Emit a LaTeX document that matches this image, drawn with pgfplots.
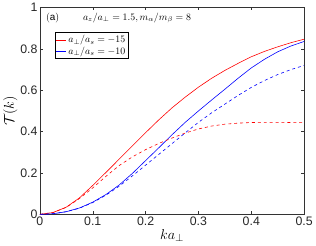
\documentclass[border=0pt]{standalone}
\usepackage{fontspec}
\setmainfont{Liberation Sans}
\usepackage{pgfplots}
\pgfplotsset{compat=1.18}
\pgfplotstableread{
k T
0 0
0.025 0.009
0.05 0.035
0.075 0.08
0.1 0.14
0.125 0.203
0.15 0.267
0.175 0.331
0.2 0.395
0.225 0.457
0.25 0.515
0.275 0.567
0.3 0.615
0.325 0.658
0.35 0.696
0.375 0.730
0.4 0.762
0.425 0.788
0.45 0.810
0.475 0.830
0.5 0.847
}\redsolid
\pgfplotstableread{
k T
0 0
0.025 0.009
0.05 0.034
0.075 0.077
0.1 0.128
0.125 0.184
0.15 0.236
0.175 0.278
0.2 0.313
0.225 0.343
0.25 0.369
0.275 0.393
0.3 0.413
0.325 0.427
0.35 0.436
0.375 0.441
0.4 0.444
0.425 0.445
0.45 0.445
0.475 0.444
0.5 0.443
}\reddash
\pgfplotstableread{
k T
0 0
0.025 0.003
0.05 0.013
0.075 0.031
0.1 0.059
0.125 0.096
0.15 0.142
0.175 0.198
0.2 0.26
0.225 0.322
0.25 0.385
0.275 0.445
0.3 0.5
0.325 0.553
0.35 0.605
0.375 0.658
0.4 0.708
0.425 0.750
0.45 0.786
0.475 0.814
0.5 0.836
}\bluesolid
\pgfplotstableread{
k T
0 0
0.025 0.003
0.05 0.013
0.075 0.030
0.1 0.057
0.125 0.093
0.15 0.136
0.175 0.186
0.2 0.238
0.225 0.290
0.25 0.342
0.275 0.394
0.3 0.445
0.325 0.491
0.35 0.533
0.375 0.575
0.4 0.614
0.425 0.647
0.45 0.676
0.475 0.700
0.5 0.720
}\bluedash
\begin{document}
\begin{tikzpicture}
\begin{axis}[
  scale only axis,
  width=267bp, height=209bp,
  xmin=0, xmax=0.5, ymin=0, ymax=1,
  xtick={0,0.1,0.2,0.3,0.4,0.5},
  ytick={0,0.2,0.4,0.6,0.8,1},
  tick align=inside,
  major tick length=3bp,
  tick style={black!80, line width=0.4pt},
  axis line style={black!80, line width=0.5pt},
  tick label style={font=\fontsize{12.5}{14}\selectfont, black!85},
  /pgf/number format/assume math mode=true,
  xticklabel style={yshift=1bp},
  yticklabel style={xshift=1bp},
  xlabel={$ka_\perp$},
  ylabel={$\mathcal{T}(k)$},
  label style={font=\fontsize{15}{17}\selectfont},
  xlabel style={yshift=3bp},
  ylabel style={yshift=-4bp},
  legend style={at={(axis description cs:0.056,0.88)}, anchor=north west,
    draw=black, line width=0.5pt, font=\fontsize{10}{11}\selectfont,
    inner xsep=1bp, inner ysep=1bp, row sep=-1.5bp},
  legend cell align=left,
  legend image code/.code={\draw[#1, line width=0.6pt] (0cm,0cm) -- (0.35cm,0cm);},
]
\addplot[red, line width=0.6pt] table[x=k,y=T] {\redsolid};
\addlegendentry{$a_\perp/a_s=-15$}
\addplot[blue, line width=0.6pt] table[x=k,y=T] {\bluesolid};
\addlegendentry{$a_\perp/a_s=-10$}
\addplot[red, dashed, line width=0.6pt, forget plot] table[x=k,y=T] {\reddash};
\addplot[blue, dashed, line width=0.6pt, forget plot] table[x=k,y=T] {\bluedash};
\node[anchor=west, font=\fontsize{10}{11}\selectfont] at (axis description cs:0.01,0.95) {$\mathrm{(a)}$};
\node[anchor=west, font=\fontsize{10}{11}\selectfont] at (axis description cs:0.15,0.95) {$a_z/a_\perp=1.5, m_\alpha/m_\beta=8$};
\end{axis}
\end{tikzpicture}
\end{document}
